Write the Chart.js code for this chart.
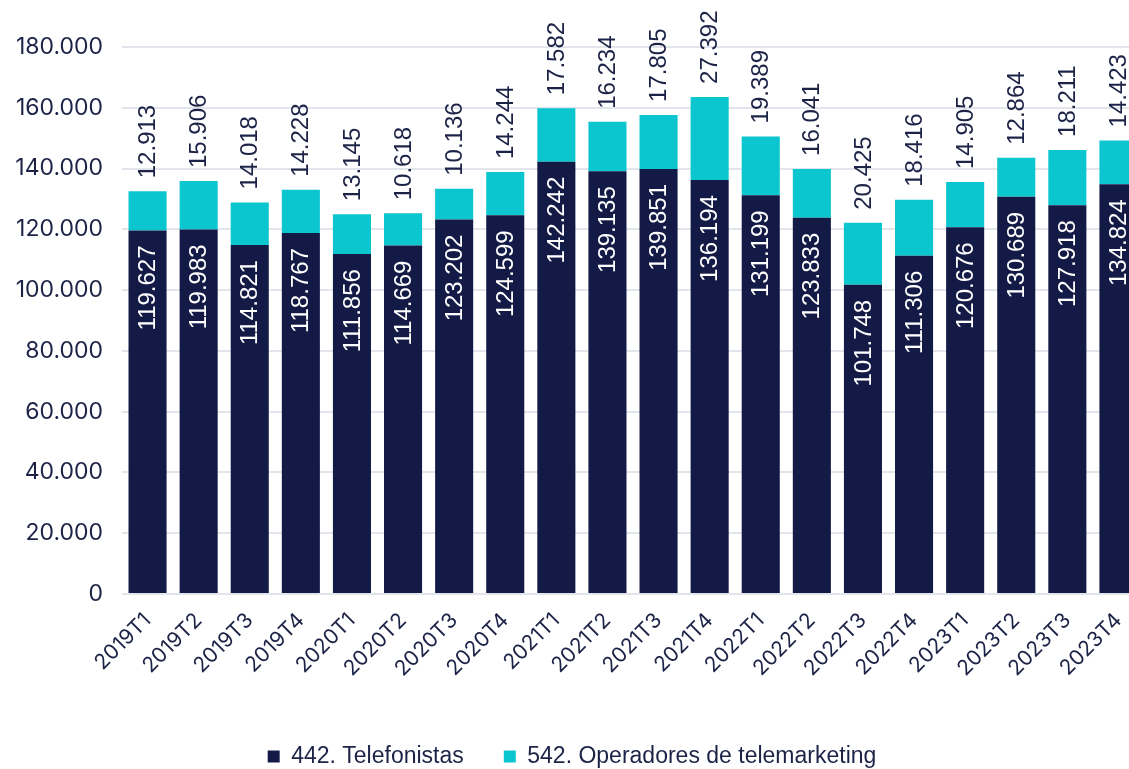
<!DOCTYPE html>
<html>
<head>
<meta charset="utf-8">
<script src="https://cdn.jsdelivr.net/npm/chart.js@4.4.1/dist/chart.umd.min.js"></script>
<style>
  html, body { margin: 0; padding: 0; background: #ffffff; overflow: hidden; }
  #wrap { width: 1129px; height: 769px; overflow: hidden; position: relative; }
  canvas { display: block; }
</style>
</head>
<body>
<div id="wrap"><canvas id="c" width="1150" height="769"></canvas></div>
<script>
const categories = ['2019T1','2019T2','2019T3','2019T4','2020T1','2020T2','2020T3','2020T4','2021T1','2021T2','2021T3','2021T4','2022T1','2022T2','2022T3','2022T4','2023T1','2023T2','2023T3','2023T4'];
const telefonistas = [119627,119983,114821,118767,111856,114669,123202,124599,142242,139135,139851,136194,131199,123833,101748,111306,120676,130689,127918,134824];
const telemarketing = [12913,15906,14018,14228,13145,10618,10136,14244,17582,16234,17805,27392,19389,16041,20425,18416,14905,12864,18211,14423];
const seriesNames = ['442. Telefonistas', '542. Operadores de telemarketing'];
const yMin = 0, yMax = 180000, yStep = 20000;

const NAVY = '#141a46';
const TEAL = '#0bc5cf';
const TEXT = '#1c2347';
const GRID = '#e2e5ec';

function fmt(v) {
  const s = Math.round(v).toString();
  return s.replace(/\B(?=(\d{3})+(?!\d))/g, '.');
}

const labelPlugin = {
  id: 'barLabels',
  afterDatasetsDraw(chart) {
    const ctx = chart.ctx;
    ctx.save();
    ctx.font = '24px "Liberation Sans", Arial, sans-serif';
    ctx.textBaseline = 'middle';
    const m0 = chart.getDatasetMeta(0);
    const m1 = chart.getDatasetMeta(1);
    m0.data.forEach((bar, i) => {
      ctx.save();
      ctx.translate(bar.x, bar.y + 15);
      ctx.rotate(-Math.PI / 2);
      ctx.textAlign = 'right';
      ctx.fillStyle = '#ffffff';
      ctx.fillText(fmt(telefonistas[i]), 0, 1);
      ctx.restore();
    });
    m1.data.forEach((bar, i) => {
      ctx.save();
      ctx.translate(bar.x, bar.y - 13);
      ctx.rotate(-Math.PI / 2);
      ctx.textAlign = 'left';
      ctx.fillStyle = TEXT;
      ctx.fillText(fmt(telemarketing[i]), 0, 1);
      ctx.restore();
    });
    ctx.restore();
  }
};

const PLOT_BOTTOM = 594;
const CANVAS_H = 769;
const PAD_BOTTOM = -9;

new Chart(document.getElementById('c'), {
  type: 'bar',
  data: {
    labels: categories,
    datasets: [
      { label: seriesNames[0], data: telefonistas, backgroundColor: NAVY, borderWidth: 0 },
      { label: seriesNames[1], data: telemarketing, backgroundColor: TEAL, borderWidth: 0 }
    ]
  },
  options: {
    responsive: false,
    animation: false,
    devicePixelRatio: 1,
    categoryPercentage: 1.0,
    barPercentage: 0.745,
    layout: { padding: { top: 47, right: 6, left: 0, bottom: PAD_BOTTOM } },
    plugins: {
      tooltip: { enabled: false },
      legend: {
        position: 'bottom',
        labels: {
          color: TEXT,
          font: { family: '"Liberation Sans", Arial, sans-serif', size: 23 },
          boxWidth: 12,
          boxHeight: 12,
          padding: 40
        }
      }
    },
    scales: {
      x: {
        stacked: true,
        grid: { display: false },
        border: { display: false },
        ticks: {
          color: TEXT,
          font: { family: 'Inter, sans-serif', size: 21 },
          maxRotation: 45,
          minRotation: 45,
          autoSkip: false,
          padding: 6
        },
        afterFit(scale) {
          const lg = scale.chart.legend;
          const lh = lg ? lg.height : 40;
          scale.height = CANVAS_H - PAD_BOTTOM - lh - PLOT_BOTTOM;
        }
      },
      y: {
        stacked: true,
        min: yMin,
        max: yMax,
        grid: { color: GRID, lineWidth: 2, drawTicks: false },
        border: { display: false },
        ticks: {
          stepSize: yStep,
          color: TEXT,
          font: { family: 'Inter, sans-serif', size: 23 },
          padding: 19,
          callback: (v) => fmt(v)
        },
        afterFit(scale) { scale.width = 122; }
      }
    }
  },
  plugins: [labelPlugin]
});
</script>
</body>
</html>
